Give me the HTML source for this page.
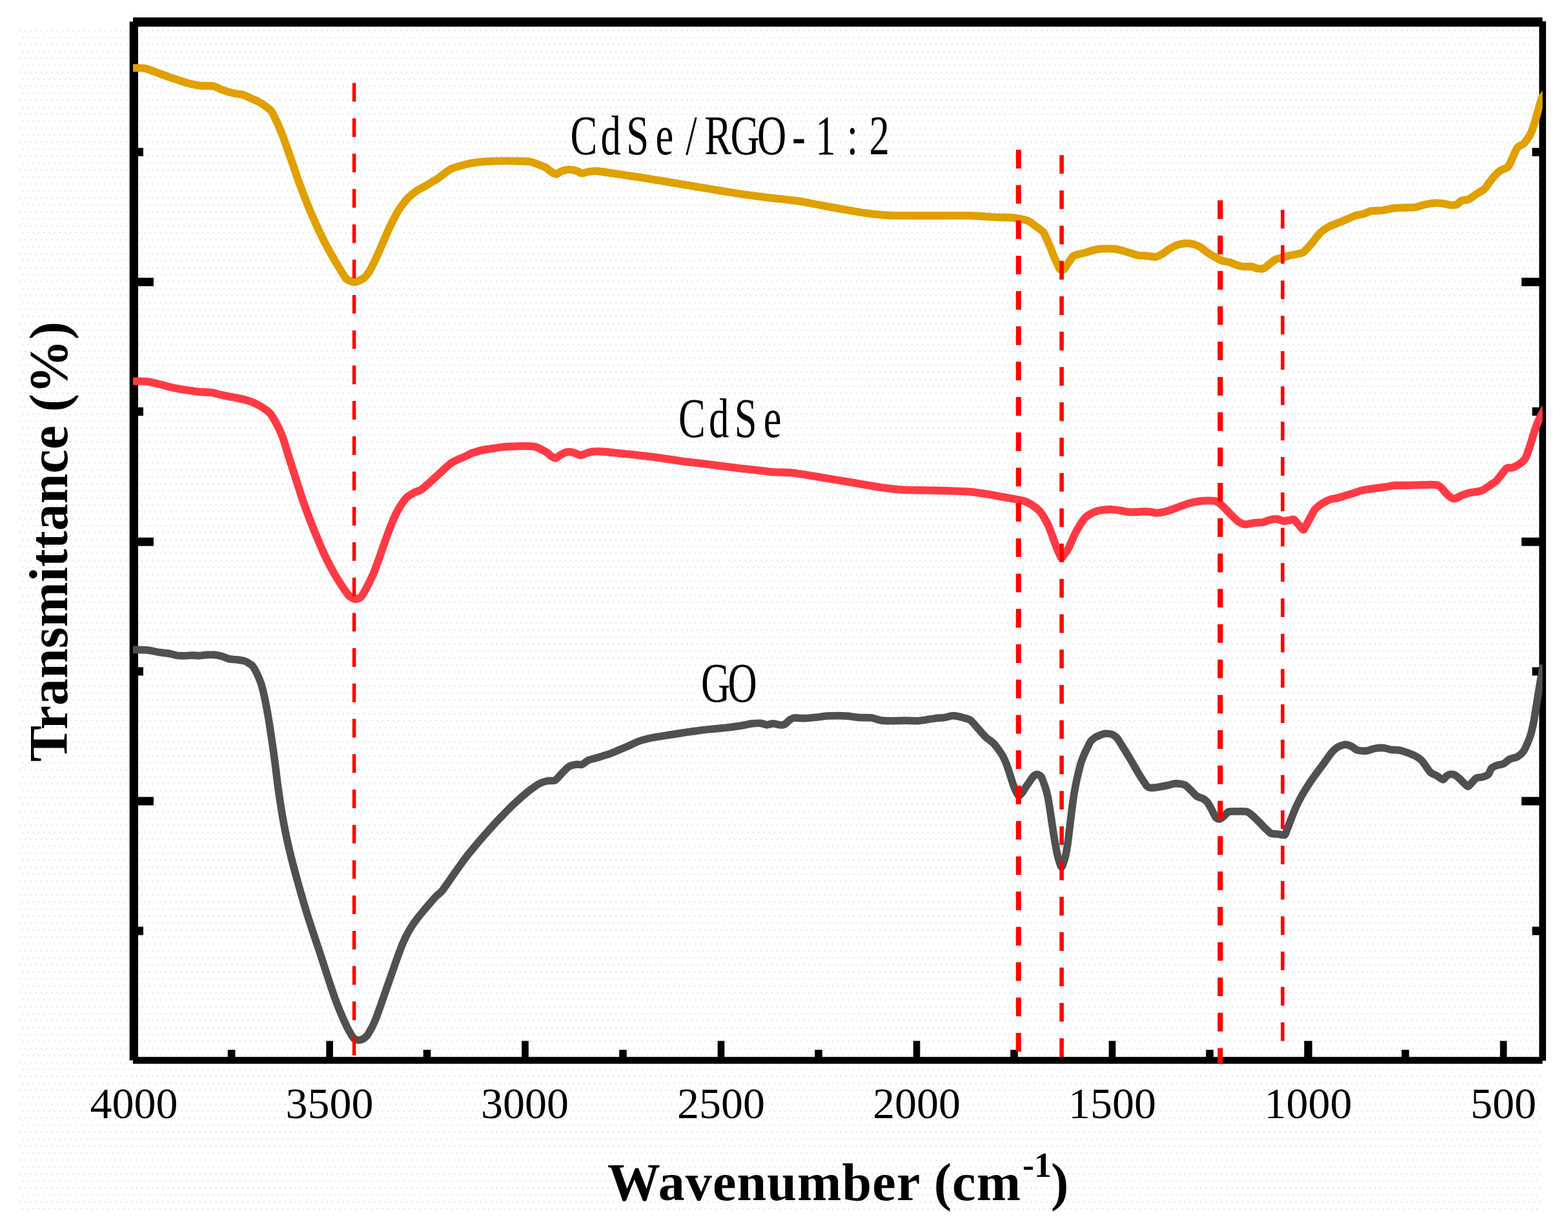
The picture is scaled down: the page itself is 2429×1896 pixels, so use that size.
<!DOCTYPE html>
<html lang="en"><head><meta charset="utf-8"><title>FTIR spectra</title>
<style>html,body{margin:0;padding:0;background:#fff}body{width:2429px;height:1896px;overflow:hidden}svg{display:block}text{font-family:"Liberation Serif",serif;fill:#000}</style>
</head><body>
<svg xmlns="http://www.w3.org/2000/svg" width="2429" height="1896" viewBox="0 0 2429 1896">
<defs><pattern id="dots" x="30" y="46" width="8.2" height="21.6" patternUnits="userSpaceOnUse"><rect x="0" y="0" width="2.7" height="2.7" fill="#ebebeb"/><rect x="4.1" y="10.8" width="2.7" height="2.7" fill="#ebebeb"/></pattern><clipPath id="plot"><rect x="206" y="30" width="2183.6" height="1615"/></clipPath></defs>
<rect width="2429" height="1896" fill="#fff"/>
<rect x="30" y="46" width="2356" height="1836" fill="url(#dots)"/>
<g fill="#000">
<rect x="206" y="27" width="2183.5" height="14.3"/>
<rect x="200.7" y="33.5" width="13.3" height="1609"/>
<rect x="2384.3" y="33" width="10.6" height="1610"/>
<rect x="206" y="1637.2" width="2183.5" height="10.6"/>
<rect x="213" y="229.0" width="9" height="13"/>
<rect x="2373.5" y="229.0" width="11.5" height="13"/>
<rect x="213" y="430.3" width="25" height="13"/>
<rect x="2357" y="430.3" width="28" height="13"/>
<rect x="213" y="631.0" width="9" height="13"/>
<rect x="2373.5" y="631.0" width="11.5" height="13"/>
<rect x="213" y="832.7" width="25" height="13"/>
<rect x="2357" y="832.7" width="28" height="13"/>
<rect x="213" y="1033.5" width="9" height="13"/>
<rect x="2373.5" y="1033.5" width="11.5" height="13"/>
<rect x="213" y="1234.5" width="25" height="13"/>
<rect x="2357" y="1234.5" width="28" height="13"/>
<rect x="213" y="1435.5" width="9" height="13"/>
<rect x="2373.5" y="1435.5" width="11.5" height="13"/>
<rect x="352.8" y="1626.2" width="11.6" height="13.799999999999955"/>
<rect x="505.3" y="1612.4" width="10.6" height="27.59999999999991"/>
<rect x="655.7" y="1626.2" width="11.6" height="13.799999999999955"/>
<rect x="808.2" y="1612.4" width="10.6" height="27.59999999999991"/>
<rect x="959.2" y="1626.2" width="11.6" height="13.799999999999955"/>
<rect x="1111.7" y="1612.4" width="10.6" height="27.59999999999991"/>
<rect x="1262.2" y="1626.2" width="11.6" height="13.799999999999955"/>
<rect x="1414.7" y="1612.4" width="10.6" height="27.59999999999991"/>
<rect x="1565.2" y="1626.2" width="11.6" height="13.799999999999955"/>
<rect x="1717.7" y="1612.4" width="10.6" height="27.59999999999991"/>
<rect x="1868.2" y="1626.2" width="11.6" height="13.799999999999955"/>
<rect x="2020.3" y="1612.4" width="12.4" height="27.59999999999991"/>
<rect x="2171.2" y="1626.2" width="11.6" height="13.799999999999955"/>
<rect x="2323.7" y="1612.4" width="10.6" height="27.59999999999991"/>
</g>
<g fill="none" clip-path="url(#plot)" stroke-linejoin="round" stroke-linecap="butt" stroke-width="12.1">
<path stroke="#505050" stroke-width="11.7" d="M205.0,1006.2 C205.2,1006.2 204.2,1006.2 207.0,1006.3 C209.8,1006.4 223.4,1006.5 228.2,1007.0 C233.0,1007.5 242.9,1009.9 246.9,1010.5 C250.9,1011.1 258.5,1011.7 261.7,1012.3 C264.9,1012.9 270.7,1014.8 273.5,1015.2 C276.3,1015.6 282.4,1015.8 285.2,1015.8 C288.0,1015.8 294.1,1015.2 296.9,1015.2 C299.7,1015.2 305.9,1015.7 308.7,1015.6 C311.5,1015.5 317.6,1014.5 320.4,1014.4 C323.2,1014.3 329.3,1014.1 332.1,1014.4 C334.9,1014.7 341.1,1015.9 343.9,1016.7 C346.7,1017.5 352.8,1020.1 355.6,1020.7 C358.4,1021.3 364.5,1021.5 367.3,1021.9 C370.1,1022.3 376.9,1023.4 379.0,1024.0 C381.1,1024.6 383.5,1026.1 384.9,1027.0 C386.3,1027.9 389.6,1029.9 390.8,1031.1 C392.0,1032.3 393.4,1034.8 394.6,1036.9 C395.8,1039.0 399.3,1045.9 400.5,1048.7 C401.7,1051.5 404.0,1057.6 404.9,1060.4 C405.8,1063.2 407.3,1069.3 408.0,1072.1 C408.7,1074.9 410.0,1081.1 410.6,1083.9 C411.2,1086.7 412.4,1092.8 412.9,1095.6 C413.4,1098.4 414.5,1104.5 415.0,1107.3 C415.5,1110.1 416.5,1116.2 416.9,1119.0 C417.3,1121.8 418.3,1128.0 418.7,1130.8 C419.1,1133.6 420.1,1139.7 420.5,1142.5 C420.9,1145.3 421.8,1151.4 422.2,1154.2 C422.6,1157.0 423.5,1163.2 423.9,1166.0 C424.3,1168.8 425.1,1174.9 425.5,1177.7 C425.9,1180.5 426.4,1184.3 427.0,1189.4 C427.6,1194.5 429.6,1211.6 430.8,1220.0 C432.0,1228.4 435.2,1250.2 436.8,1259.8 C438.4,1269.4 442.7,1291.6 444.5,1300.0 C446.3,1308.4 450.0,1323.6 451.6,1330.0 C453.2,1336.4 456.3,1347.9 457.8,1353.5 C459.3,1359.1 462.7,1371.3 464.3,1376.9 C465.9,1382.5 469.4,1394.8 471.1,1400.4 C472.8,1406.0 476.5,1418.3 478.3,1423.9 C480.1,1429.5 484.1,1441.7 486.0,1447.3 C487.9,1452.9 492.0,1465.2 493.9,1470.8 C495.8,1476.4 499.7,1488.6 501.5,1494.2 C503.3,1499.8 507.1,1511.7 509.1,1517.7 C511.1,1523.7 515.9,1537.9 518.0,1543.9 C520.1,1549.9 524.7,1561.7 527.0,1567.3 C529.3,1572.9 535.5,1586.6 537.5,1590.8 C539.5,1595.0 542.7,1600.4 544.0,1602.5 C545.3,1604.6 547.0,1607.4 548.0,1608.4 C549.0,1609.4 551.6,1610.4 552.7,1610.7 C553.8,1611.0 556.3,1611.1 557.4,1611.0 C558.5,1610.9 560.8,1610.2 562.1,1609.5 C563.4,1608.8 567.0,1605.9 568.0,1604.9 C569.0,1603.9 569.6,1603.0 570.6,1601.3 C571.6,1599.6 575.2,1593.5 576.5,1590.8 C577.8,1588.1 580.6,1581.8 581.8,1579.0 C583.0,1576.2 585.2,1570.1 586.2,1567.3 C587.2,1564.5 589.3,1558.4 590.3,1555.6 C591.3,1552.8 593.4,1546.7 594.4,1543.9 C595.4,1541.1 597.5,1534.9 598.5,1532.1 C599.5,1529.3 601.6,1523.2 602.6,1520.4 C603.6,1517.6 605.7,1511.5 606.7,1508.7 C607.7,1505.9 609.8,1499.7 610.8,1496.9 C611.8,1494.1 613.9,1488.0 614.9,1485.2 C615.9,1482.4 618.1,1476.3 619.2,1473.5 C620.3,1470.7 622.5,1464.6 623.8,1461.7 C625.1,1458.8 628.1,1452.1 629.7,1449.0 C631.3,1445.9 635.4,1438.6 637.3,1435.6 C639.2,1432.6 643.4,1426.7 645.5,1423.9 C647.6,1421.1 652.7,1414.9 655.0,1412.1 C657.3,1409.3 662.6,1403.2 665.0,1400.4 C667.4,1397.6 672.8,1391.2 675.2,1388.7 C677.6,1386.2 681.8,1383.6 685.0,1379.7 C688.2,1375.8 697.4,1362.1 701.6,1356.2 C705.8,1350.3 717.3,1334.1 720.0,1330.4 C722.7,1326.7 722.0,1327.6 724.1,1325.0 C726.2,1322.4 734.4,1312.5 737.7,1308.6 C741.0,1304.7 748.3,1296.1 751.8,1292.2 C755.3,1288.3 763.1,1279.4 766.5,1275.7 C769.9,1272.0 776.6,1265.1 779.9,1261.7 C783.2,1258.3 790.5,1250.8 793.9,1247.6 C797.3,1244.4 804.5,1237.7 807.9,1234.7 C811.3,1231.7 818.6,1225.5 822.0,1223.0 C825.4,1220.5 833.0,1215.2 836.1,1213.6 C839.2,1212.0 845.0,1210.2 847.8,1209.6 C850.6,1209.0 857.0,1210.1 859.5,1208.9 C862.0,1207.7 866.4,1202.0 868.9,1199.5 C871.4,1197.0 877.9,1189.6 880.7,1187.8 C883.5,1186.0 889.9,1184.6 892.4,1184.2 C894.9,1183.8 899.5,1185.0 901.8,1184.2 C904.1,1183.4 908.4,1179.0 911.2,1177.7 C914.0,1176.4 921.3,1174.9 925.2,1173.7 C929.1,1172.5 940.1,1169.2 944.0,1167.8 C947.9,1166.4 954.7,1163.4 958.1,1162.0 C961.5,1160.6 968.5,1157.7 972.2,1156.1 C975.9,1154.5 984.7,1150.1 988.6,1148.6 C992.5,1147.1 1000.2,1145.0 1005.0,1143.9 C1009.8,1142.8 1022.9,1140.6 1028.5,1139.7 C1034.1,1138.8 1046.3,1137.0 1051.9,1136.1 C1057.5,1135.2 1069.8,1133.4 1075.4,1132.6 C1081.0,1131.8 1093.3,1130.4 1098.9,1129.8 C1104.5,1129.2 1116.7,1128.1 1122.3,1127.5 C1127.9,1126.9 1140.7,1125.2 1145.8,1124.4 C1150.9,1123.6 1160.7,1121.4 1164.6,1120.9 C1168.5,1120.4 1175.8,1120.2 1178.6,1120.4 C1181.4,1120.6 1185.7,1122.7 1188.0,1122.8 C1190.3,1122.9 1194.8,1120.9 1197.4,1120.9 C1200.0,1120.9 1207.1,1123.1 1209.4,1123.2 C1211.7,1123.3 1214.7,1122.4 1216.4,1121.4 C1218.1,1120.4 1221.8,1116.1 1223.5,1115.0 C1225.2,1113.9 1227.7,1112.3 1230.5,1112.0 C1233.3,1111.7 1242.7,1112.8 1246.9,1112.7 C1251.1,1112.6 1261.8,1111.4 1265.7,1111.0 C1269.6,1110.6 1275.9,1109.5 1279.8,1109.2 C1283.7,1108.9 1294.6,1108.7 1298.5,1108.7 C1302.4,1108.7 1308.7,1108.9 1312.6,1109.2 C1316.5,1109.5 1326.9,1111.2 1331.4,1111.5 C1335.9,1111.8 1346.3,1111.5 1350.2,1112.0 C1354.1,1112.5 1360.8,1115.1 1364.2,1115.7 C1367.6,1116.3 1373.8,1116.6 1378.3,1116.7 C1382.8,1116.8 1396.7,1116.2 1401.8,1116.2 C1406.9,1116.2 1416.7,1116.8 1420.6,1116.7 C1424.5,1116.6 1431.2,1115.5 1434.6,1115.0 C1438.0,1114.5 1445.3,1113.1 1448.7,1112.7 C1452.1,1112.3 1459.4,1112.0 1462.8,1111.5 C1466.2,1111.0 1473.4,1108.7 1476.9,1108.7 C1480.4,1108.7 1488.5,1110.8 1491.7,1111.7 C1494.9,1112.6 1500.7,1113.8 1503.5,1115.8 C1506.3,1117.8 1512.4,1125.6 1515.2,1128.7 C1518.0,1131.8 1524.1,1138.9 1526.9,1141.6 C1529.7,1144.3 1536.4,1148.7 1538.7,1151.0 C1541.0,1153.3 1544.5,1157.9 1546.3,1160.4 C1548.1,1162.9 1552.4,1169.3 1553.9,1172.1 C1555.4,1174.9 1558.1,1181.1 1559.2,1183.9 C1560.3,1186.7 1562.3,1192.8 1563.2,1195.6 C1564.1,1198.4 1566.0,1204.5 1566.9,1207.3 C1567.8,1210.1 1569.9,1216.5 1570.9,1219.0 C1571.9,1221.5 1574.3,1226.8 1575.2,1228.4 C1576.1,1230.0 1577.0,1232.5 1578.0,1232.5 C1579.0,1232.5 1581.9,1230.0 1583.2,1228.4 C1584.5,1226.8 1587.7,1221.2 1589.2,1219.0 C1590.7,1216.8 1594.2,1211.7 1595.6,1209.7 C1597.0,1207.7 1599.5,1203.8 1600.8,1202.6 C1602.1,1201.4 1605.3,1199.7 1606.7,1199.7 C1608.1,1199.7 1611.4,1201.1 1612.6,1202.6 C1613.8,1204.1 1615.7,1209.6 1616.6,1212.0 C1617.5,1214.4 1619.4,1219.9 1620.2,1222.6 C1621.0,1225.3 1622.4,1231.0 1623.1,1234.3 C1623.8,1237.6 1625.0,1244.6 1625.9,1250.0 C1626.8,1255.4 1629.2,1272.7 1630.2,1279.0 C1631.2,1285.3 1632.9,1296.9 1633.9,1302.5 C1634.9,1308.1 1637.5,1321.8 1638.5,1326.0 C1639.5,1330.2 1641.3,1335.7 1642.0,1337.7 C1642.7,1339.7 1643.9,1343.0 1644.5,1343.0 C1645.1,1343.0 1646.3,1339.7 1647.0,1337.7 C1647.7,1335.7 1649.7,1330.2 1650.6,1326.0 C1651.5,1321.8 1653.8,1308.1 1654.6,1302.5 C1655.4,1296.9 1656.7,1284.6 1657.4,1279.0 C1658.1,1273.4 1659.5,1261.2 1660.2,1255.6 C1660.9,1250.0 1662.6,1237.7 1663.5,1232.1 C1664.4,1226.5 1666.6,1214.3 1667.8,1208.7 C1669.0,1203.1 1672.3,1189.6 1673.5,1185.2 C1674.7,1180.8 1676.9,1175.1 1678.1,1172.1 C1679.3,1169.1 1682.0,1163.2 1683.4,1160.4 C1684.8,1157.6 1687.9,1150.8 1689.4,1148.7 C1690.9,1146.6 1694.3,1143.9 1695.9,1142.8 C1697.5,1141.7 1700.9,1140.1 1702.9,1139.3 C1704.9,1138.5 1709.8,1136.4 1712.3,1136.3 C1714.8,1136.2 1721.9,1137.3 1724.0,1138.1 C1726.1,1138.9 1728.7,1141.4 1730.0,1142.8 C1731.3,1144.2 1732.7,1146.3 1735.0,1150.0 C1737.3,1153.7 1746.1,1167.9 1749.5,1173.5 C1752.9,1179.1 1760.6,1192.7 1763.1,1196.9 C1765.6,1201.1 1768.8,1206.2 1770.5,1208.7 C1772.2,1211.2 1775.5,1216.6 1777.0,1218.0 C1778.5,1219.4 1780.8,1220.3 1782.9,1220.4 C1785.0,1220.5 1791.3,1219.7 1794.6,1219.2 C1797.9,1218.7 1806.8,1217.0 1810.0,1216.3 C1813.2,1215.6 1818.3,1213.6 1821.3,1213.6 C1824.3,1213.6 1832.6,1214.6 1835.4,1215.9 C1838.2,1217.2 1842.5,1222.0 1844.7,1224.1 C1846.9,1226.2 1851.8,1232.0 1854.1,1233.5 C1856.4,1235.0 1861.5,1235.9 1863.5,1237.0 C1865.5,1238.1 1869.0,1240.8 1870.6,1242.9 C1872.2,1245.0 1875.7,1251.8 1877.2,1254.6 C1878.7,1257.4 1882.0,1264.7 1883.5,1266.4 C1885.0,1268.1 1887.8,1269.0 1889.3,1268.7 C1890.8,1268.4 1894.7,1265.4 1896.4,1264.0 C1898.1,1262.6 1900.9,1258.2 1903.4,1257.4 C1905.9,1256.6 1914.1,1257.0 1917.5,1257.0 C1920.9,1257.0 1928.8,1256.6 1931.6,1257.4 C1934.4,1258.2 1938.4,1261.8 1940.9,1264.0 C1943.4,1266.2 1950.2,1273.2 1952.7,1275.7 C1955.2,1278.2 1960.1,1283.3 1962.1,1285.1 C1964.1,1286.9 1966.9,1290.1 1969.1,1291.0 C1971.3,1291.9 1978.3,1291.9 1980.8,1292.2 C1983.3,1292.5 1988.6,1294.2 1990.2,1293.3 C1991.8,1292.4 1992.6,1288.1 1993.8,1285.1 C1995.0,1282.1 1998.4,1272.9 2000.1,1268.7 C2001.8,1264.5 2005.7,1254.4 2007.8,1249.9 C2009.9,1245.4 2014.8,1235.7 2017.3,1231.2 C2019.8,1226.7 2026.4,1216.3 2029.0,1212.4 C2031.6,1208.5 2036.3,1202.0 2039.0,1198.3 C2041.7,1194.6 2048.2,1185.8 2051.1,1181.9 C2054.0,1178.0 2060.5,1168.5 2063.0,1165.5 C2065.5,1162.5 2069.8,1158.8 2072.3,1157.3 C2074.8,1155.8 2081.6,1153.4 2084.1,1153.3 C2086.6,1153.2 2091.3,1155.1 2093.5,1156.1 C2095.7,1157.1 2100.0,1161.2 2102.8,1162.0 C2105.6,1162.8 2113.8,1163.4 2116.9,1163.1 C2120.0,1162.8 2125.8,1160.2 2128.6,1159.6 C2131.4,1159.0 2138.0,1158.4 2140.4,1158.4 C2142.8,1158.4 2146.8,1159.2 2148.6,1159.6 C2150.4,1160.0 2153.4,1161.1 2155.7,1161.4 C2158.0,1161.7 2164.6,1161.4 2167.4,1161.9 C2170.2,1162.4 2176.0,1164.3 2179.1,1165.4 C2182.2,1166.5 2190.4,1169.8 2193.2,1171.3 C2196.0,1172.8 2200.5,1176.1 2202.6,1178.3 C2204.7,1180.5 2209.3,1187.7 2211.0,1190.0 C2212.7,1192.3 2214.9,1195.7 2216.7,1197.1 C2218.5,1198.5 2223.8,1200.5 2226.1,1201.8 C2228.4,1203.1 2233.7,1207.6 2235.5,1207.6 C2237.3,1207.6 2239.9,1202.8 2241.3,1201.8 C2242.7,1200.8 2245.7,1199.5 2247.2,1199.4 C2248.7,1199.3 2252.5,1199.7 2254.2,1200.6 C2255.9,1201.5 2259.6,1205.0 2261.3,1206.5 C2263.0,1208.0 2266.8,1212.1 2268.3,1213.5 C2269.8,1214.9 2272.7,1218.5 2274.2,1218.2 C2275.7,1217.9 2279.7,1212.6 2281.2,1211.1 C2282.7,1209.6 2285.3,1206.2 2287.1,1205.3 C2288.9,1204.4 2294.2,1204.3 2296.4,1203.6 C2298.6,1202.9 2304.1,1201.0 2305.8,1199.4 C2307.5,1197.8 2308.8,1191.7 2310.5,1190.0 C2312.2,1188.3 2317.6,1186.1 2319.9,1185.3 C2322.2,1184.5 2327.0,1184.1 2329.3,1183.0 C2331.6,1181.9 2336.2,1177.3 2338.7,1176.0 C2341.2,1174.7 2347.9,1173.8 2350.4,1172.4 C2352.9,1171.0 2358.0,1166.6 2359.8,1164.2 C2361.6,1161.8 2364.3,1155.6 2365.7,1152.5 C2367.1,1149.4 2370.0,1142.1 2371.1,1138.4 C2372.2,1134.7 2374.2,1126.5 2375.1,1122.0 C2376.0,1117.5 2377.9,1106.0 2378.7,1100.9 C2379.5,1095.8 2381.3,1084.9 2382.1,1079.8 C2382.9,1074.7 2384.9,1063.1 2385.6,1058.7 C2386.3,1054.3 2387.7,1046.8 2388.3,1043.4 C2388.9,1040.0 2390.7,1031.6 2391.0,1030.0"/>
<path stroke="#ff3a44" d="M205.0,590.5 C205.2,590.5 204.2,590.4 207.0,590.5 C209.8,590.6 223.4,590.4 228.2,591.0 C233.0,591.6 241.8,594.0 246.9,595.2 C252.0,596.4 264.8,599.9 270.4,601.1 C276.0,602.3 289.4,604.3 293.9,605.0 C298.4,605.7 304.0,606.5 307.9,606.9 C311.8,607.3 322.6,607.6 326.7,608.1 C330.8,608.6 338.5,610.7 341.7,611.4 C344.9,612.1 350.7,613.4 353.5,614.0 C356.3,614.6 362.4,615.5 365.2,616.1 C368.0,616.7 374.1,618.0 376.9,618.7 C379.7,619.4 385.9,621.1 388.7,622.2 C391.5,623.3 397.6,626.0 400.4,627.5 C403.2,629.0 409.8,633.3 412.1,635.1 C414.4,636.9 417.9,639.8 419.7,642.1 C421.5,644.4 425.4,651.1 427.0,653.9 C428.6,656.7 431.7,662.8 433.0,665.6 C434.3,668.4 436.8,674.5 437.8,677.3 C438.8,680.1 440.8,686.2 441.7,689.0 C442.6,691.8 444.4,698.0 445.3,700.8 C446.2,703.6 448.0,709.7 448.9,712.5 C449.8,715.3 451.8,721.4 452.7,724.2 C453.6,727.0 455.6,733.2 456.5,736.0 C457.4,738.8 458.7,743.2 460.2,747.7 C461.7,752.2 466.6,767.6 468.6,773.5 C470.6,779.4 474.9,791.3 477.0,796.9 C479.1,802.5 483.8,814.8 486.1,820.4 C488.4,826.0 493.5,838.3 495.9,843.9 C498.3,849.5 503.7,861.7 506.5,867.3 C509.3,872.9 515.8,885.2 519.1,890.8 C522.4,896.4 531.5,910.3 534.2,914.2 C536.9,918.1 539.6,921.9 541.5,923.6 C543.4,925.3 548.1,928.2 550.2,928.3 C552.3,928.4 557.1,926.5 559.0,924.8 C560.9,923.1 563.7,918.3 565.9,914.2 C568.1,910.1 575.0,896.4 577.5,890.8 C580.0,885.2 584.4,872.9 586.5,867.3 C588.6,861.7 592.6,849.5 594.6,843.9 C596.6,838.3 600.9,826.0 603.1,820.4 C605.3,814.8 610.9,801.2 612.9,796.9 C614.9,792.6 618.0,787.3 620.0,784.2 C622.0,781.1 626.8,773.8 629.3,771.3 C631.8,768.8 638.3,764.8 641.1,763.3 C643.9,761.8 650.0,760.2 652.8,758.4 C655.6,756.6 661.7,750.9 664.5,748.4 C667.3,745.9 673.4,740.4 676.2,737.8 C679.0,735.2 685.2,729.2 688.0,726.7 C690.8,724.2 696.9,718.6 699.7,716.7 C702.5,714.8 708.6,712.2 711.4,710.9 C714.2,709.6 721.1,706.9 723.2,705.9 C725.3,704.9 726.9,703.4 729.0,702.6 C731.1,701.8 738.0,699.7 740.8,698.9 C743.6,698.1 749.7,696.8 752.5,696.3 C755.3,695.8 761.4,695.0 764.2,694.6 C767.0,694.2 773.2,693.1 776.0,692.8 C778.8,692.5 783.5,692.0 787.7,691.8 C791.9,691.6 806.3,691.0 811.2,691.0 C816.1,691.0 825.3,691.3 828.8,692.0 C832.3,692.7 838.0,695.9 840.5,697.2 C843.0,698.5 848.6,701.8 850.0,702.8 C851.4,703.8 851.2,705.1 852.5,705.9 C853.8,706.7 858.7,709.9 860.7,709.7 C862.7,709.5 866.8,705.4 868.9,704.3 C871.0,703.2 876.0,700.7 878.3,700.3 C880.6,699.9 885.2,700.2 887.7,700.8 C890.2,701.4 896.9,704.9 899.4,705.0 C901.9,705.1 906.5,702.6 908.8,702.0 C911.1,701.4 915.1,699.9 918.2,699.6 C921.3,699.3 929.8,699.3 934.6,699.6 C939.4,699.9 952.5,701.4 958.1,702.0 C963.7,702.6 976.0,703.7 981.6,704.3 C987.2,704.9 999.4,706.4 1005.0,707.1 C1010.6,707.8 1022.9,709.4 1028.5,710.2 C1034.1,711.0 1046.3,712.9 1051.9,713.7 C1057.5,714.5 1069.8,716.0 1075.4,716.7 C1081.0,717.4 1093.3,718.8 1098.9,719.5 C1104.5,720.2 1116.7,721.9 1122.3,722.6 C1127.9,723.3 1140.2,724.8 1145.8,725.4 C1151.4,726.0 1163.1,727.3 1169.3,728.0 C1175.5,728.7 1190.9,730.8 1197.4,731.3 C1203.9,731.8 1216.1,731.4 1223.5,732.1 C1230.9,732.8 1250.3,736.0 1258.7,737.3 C1267.1,738.6 1285.5,741.7 1293.9,743.1 C1302.3,744.5 1320.6,747.6 1329.0,749.0 C1337.4,750.4 1355.8,753.7 1364.2,754.9 C1372.6,756.1 1391.0,758.2 1399.4,758.8 C1407.8,759.4 1426.2,759.3 1434.6,759.5 C1443.0,759.7 1461.4,760.0 1469.8,760.3 C1478.2,760.6 1496.6,761.1 1505.0,761.9 C1513.4,762.7 1534.4,766.3 1540.0,767.2 C1545.6,768.1 1548.9,769.0 1551.7,769.5 C1554.5,770.0 1560.7,771.1 1563.5,771.6 C1566.3,772.1 1572.4,773.1 1575.2,773.7 C1578.0,774.3 1584.1,775.3 1586.9,776.3 C1589.7,777.3 1595.9,780.4 1598.7,782.2 C1601.5,784.0 1608.1,789.2 1610.4,791.6 C1612.7,794.0 1616.1,799.4 1617.7,802.1 C1619.3,804.8 1622.6,811.1 1623.9,813.9 C1625.2,816.7 1627.4,822.8 1628.5,825.6 C1629.6,828.4 1631.7,834.5 1632.7,837.3 C1633.7,840.1 1636.0,846.3 1637.1,849.0 C1638.2,851.7 1640.9,857.8 1641.8,859.6 C1642.7,861.4 1643.7,864.2 1644.4,864.3 C1645.1,864.4 1646.9,861.3 1647.8,860.2 C1648.7,859.1 1650.9,856.2 1651.8,854.9 C1652.7,853.6 1654.2,851.1 1655.3,849.0 C1656.4,846.9 1659.3,840.1 1660.6,837.3 C1661.9,834.5 1664.5,828.4 1665.9,825.6 C1667.3,822.8 1670.8,816.7 1672.6,813.9 C1674.4,811.1 1678.8,804.2 1680.8,802.1 C1682.8,800.0 1686.9,797.5 1689.0,796.3 C1691.1,795.1 1695.9,792.9 1698.4,792.1 C1700.9,791.3 1707.3,790.1 1710.1,789.8 C1712.9,789.5 1719.0,789.1 1721.8,789.2 C1724.6,789.3 1730.8,790.0 1733.6,790.4 C1736.4,790.8 1742.5,792.4 1745.3,792.7 C1748.1,793.0 1754.2,793.3 1757.0,793.3 C1759.8,793.3 1766.0,792.6 1768.8,792.5 C1771.6,792.4 1778.0,792.5 1780.5,792.7 C1783.0,792.9 1788.2,794.3 1790.0,794.5 C1791.8,794.7 1793.2,794.7 1795.5,794.3 C1797.8,793.9 1805.8,792.3 1809.5,791.2 C1813.2,790.1 1822.1,786.8 1826.0,785.4 C1829.9,784.0 1838.7,780.6 1842.4,779.5 C1846.1,778.4 1853.1,776.9 1856.5,776.4 C1859.9,775.9 1867.5,775.5 1870.6,775.5 C1873.7,775.5 1879.8,775.2 1882.3,776.0 C1884.8,776.8 1889.4,780.0 1891.7,781.8 C1894.0,783.6 1898.9,788.9 1901.1,791.2 C1903.3,793.5 1908.2,798.5 1910.4,800.6 C1912.6,802.7 1917.5,807.4 1919.8,808.8 C1922.1,810.2 1926.4,812.2 1929.2,812.3 C1932.0,812.4 1939.9,810.4 1943.3,810.0 C1946.7,809.6 1954.6,809.4 1957.4,808.8 C1960.2,808.2 1964.3,805.9 1966.8,805.3 C1969.3,804.7 1976.0,803.9 1978.5,804.1 C1981.0,804.3 1985.6,806.7 1987.9,806.9 C1990.2,807.1 1995.3,806.3 1997.3,806.0 C1999.3,805.7 2002.6,803.8 2004.3,804.6 C2006.0,805.4 2009.6,810.4 2011.4,812.3 C2013.2,814.2 2017.6,820.6 2019.1,820.6 C2020.6,820.6 2022.5,814.8 2024.0,812.3 C2025.5,809.8 2029.6,802.2 2031.2,799.4 C2032.8,796.6 2035.0,791.3 2037.1,788.9 C2039.2,786.5 2046.1,781.3 2048.9,779.5 C2051.7,777.7 2057.8,774.6 2060.6,773.6 C2063.4,772.6 2069.5,772.0 2072.3,771.3 C2075.1,770.6 2081.3,768.7 2084.1,767.8 C2086.9,766.9 2093.0,765.1 2095.8,764.2 C2098.6,763.3 2104.7,761.1 2107.5,760.3 C2110.3,759.5 2116.2,758.4 2119.3,757.9 C2122.4,757.4 2129.8,756.5 2133.3,756.0 C2136.8,755.5 2145.3,754.4 2148.6,753.9 C2151.9,753.4 2156.7,752.1 2160.4,751.9 C2164.1,751.7 2174.6,752.0 2179.1,751.9 C2183.6,751.8 2193.4,751.3 2197.9,751.2 C2202.4,751.1 2213.3,750.7 2216.7,750.7 C2220.1,750.7 2224.1,750.6 2226.1,751.2 C2228.1,751.8 2231.4,754.4 2233.1,755.9 C2234.8,757.4 2238.3,762.3 2240.1,764.1 C2241.9,765.9 2246.7,770.1 2248.4,771.1 C2250.1,772.1 2252.4,772.7 2254.2,772.3 C2256.0,771.9 2261.1,768.6 2263.6,767.6 C2266.1,766.6 2272.5,764.3 2275.3,763.6 C2278.1,762.9 2284.6,762.3 2287.1,761.8 C2289.6,761.3 2294.2,760.4 2296.4,759.4 C2298.6,758.4 2303.3,755.2 2305.8,753.5 C2308.3,751.8 2315.0,747.7 2317.6,745.3 C2320.2,742.9 2325.2,736.0 2327.2,733.6 C2329.2,731.2 2332.1,726.5 2334.0,725.4 C2335.9,724.3 2341.1,724.9 2343.4,724.2 C2345.7,723.5 2350.6,721.0 2352.8,719.5 C2355.0,718.0 2360.4,713.5 2362.1,711.3 C2363.8,709.1 2365.5,703.8 2366.6,700.8 C2367.7,697.8 2370.3,690.1 2371.4,686.7 C2372.5,683.3 2374.5,676.0 2375.6,672.6 C2376.7,669.2 2379.4,661.3 2380.5,658.5 C2381.6,655.7 2383.4,651.3 2384.5,649.1 C2385.6,646.9 2388.3,641.9 2389.4,639.8 C2390.5,637.7 2393.4,632.9 2394.0,632.0"/>
<path stroke="#e0a000" d="M205.0,105.2 C205.2,105.2 204.8,105.2 207.0,105.3 C209.2,105.4 219.6,105.1 223.5,105.8 C227.4,106.5 235.7,109.6 239.9,111.1 C244.1,112.6 254.2,116.6 258.7,118.2 C263.2,119.8 273.2,123.1 277.4,124.5 C281.6,125.9 290.0,128.7 293.9,129.7 C297.8,130.7 306.0,132.3 310.3,132.7 C314.6,133.1 326.2,132.6 330.0,133.2 C333.8,133.8 338.9,137.0 341.7,138.1 C344.5,139.2 350.7,141.4 353.5,142.2 C356.3,143.0 362.4,144.5 365.2,145.1 C368.0,145.7 374.1,146.0 376.9,146.9 C379.7,147.8 385.9,150.9 388.7,152.2 C391.5,153.5 397.6,156.0 400.4,157.5 C403.2,159.0 409.7,163.3 412.1,165.1 C414.5,166.9 418.6,169.8 420.3,172.1 C422.0,174.4 425.1,181.1 426.5,183.9 C427.9,186.7 430.7,192.8 431.9,195.6 C433.1,198.4 435.6,204.5 436.7,207.3 C437.8,210.1 440.1,216.2 441.1,219.0 C442.1,221.8 444.2,228.0 445.2,230.8 C446.2,233.6 448.4,239.7 449.4,242.5 C450.4,245.3 452.5,251.4 453.5,254.2 C454.5,257.0 456.3,262.5 457.5,266.0 C458.7,269.5 461.8,278.6 463.6,283.5 C465.4,288.4 470.3,301.3 472.5,306.9 C474.7,312.5 479.7,324.8 482.1,330.4 C484.5,336.0 489.9,348.3 492.5,353.9 C495.1,359.5 501.0,371.7 504.0,377.3 C507.0,382.9 513.4,394.4 517.1,400.8 C520.8,407.2 532.3,426.4 535.2,430.4 C538.1,434.4 539.4,433.7 541.0,434.5 C542.6,435.3 546.9,436.9 548.7,436.9 C550.5,436.9 554.1,435.6 556.0,434.8 C557.9,434.0 562.6,431.6 564.2,430.4 C565.8,429.2 568.1,425.9 569.2,424.5 C570.3,423.1 571.5,421.5 573.1,418.7 C574.7,415.9 579.9,405.8 582.2,400.8 C584.5,395.8 590.1,382.9 592.6,377.3 C595.1,371.7 600.2,359.5 602.8,353.9 C605.4,348.3 612.3,334.6 614.6,330.4 C616.9,326.2 620.2,321.5 622.3,318.7 C624.4,315.9 629.0,309.7 631.8,306.9 C634.6,304.1 642.7,297.4 645.9,295.2 C649.1,293.0 655.8,289.9 658.8,288.2 C661.8,286.5 668.0,282.6 670.5,281.1 C673.0,279.6 676.8,277.6 680.0,275.3 C683.2,273.0 693.3,264.5 697.4,262.3 C701.5,260.1 710.1,257.9 714.1,256.7 C718.1,255.5 726.0,253.5 730.5,252.7 C735.0,251.9 745.4,250.7 751.6,250.3 C757.8,249.9 776.2,249.3 782.1,249.2 C788.0,249.1 796.4,249.5 800.9,249.6 C805.4,249.7 816.0,249.8 819.7,250.3 C823.4,250.8 828.3,252.8 831.4,253.9 C834.5,255.0 842.7,258.2 845.5,259.7 C848.3,261.2 852.9,265.6 854.9,266.8 C856.9,268.0 860.2,269.9 861.9,269.8 C863.6,269.7 866.6,266.4 868.9,265.6 C871.2,264.8 877.9,262.9 880.7,262.8 C883.5,262.7 889.9,263.7 892.4,264.4 C894.9,265.1 899.5,268.2 901.8,268.4 C904.1,268.6 908.4,266.5 911.2,266.1 C914.0,265.7 919.6,264.7 925.2,265.1 C930.8,265.5 949.9,268.6 958.1,269.8 C966.3,271.0 984.9,273.7 993.3,275.0 C1001.7,276.3 1020.1,279.4 1028.5,280.8 C1036.9,282.2 1055.3,285.3 1063.7,286.7 C1072.1,288.1 1090.5,291.2 1098.9,292.6 C1107.3,294.0 1125.7,297.1 1134.1,298.4 C1142.5,299.7 1161.7,302.6 1169.3,303.6 C1176.9,304.6 1189.5,306.0 1197.4,306.9 C1205.3,307.8 1226.4,310.0 1235.2,311.3 C1244.0,312.6 1262.0,316.2 1270.4,317.7 C1278.8,319.2 1297.2,322.7 1305.6,324.2 C1314.0,325.7 1332.4,329.0 1340.8,330.1 C1349.2,331.2 1367.6,333.1 1376.0,333.6 C1384.4,334.1 1401.3,334.0 1411.2,334.1 C1421.1,334.2 1446.8,334.1 1458.1,334.1 C1469.4,334.1 1495.2,333.8 1505.0,334.1 C1514.8,334.4 1533.0,336.0 1540.0,336.3 C1547.0,336.6 1558.6,336.6 1563.5,336.9 C1568.4,337.2 1577.6,338.6 1581.1,339.2 C1584.6,339.8 1590.0,340.9 1592.8,342.2 C1595.6,343.5 1601.7,348.3 1604.5,350.4 C1607.3,352.5 1614.1,357.0 1616.3,359.8 C1618.5,362.6 1621.7,370.8 1623.1,373.9 C1624.5,377.0 1627.0,382.8 1628.1,385.6 C1629.2,388.4 1631.4,394.5 1632.6,397.3 C1633.8,400.1 1636.8,406.6 1637.9,409.0 C1639.0,411.4 1640.9,416.2 1642.1,417.3 C1643.3,418.4 1646.8,418.4 1647.9,417.8 C1649.0,417.2 1650.2,414.2 1651.3,412.6 C1652.4,411.0 1655.6,406.2 1656.9,404.4 C1658.2,402.6 1660.5,398.5 1662.0,397.3 C1663.5,396.1 1666.7,395.1 1669.0,394.4 C1671.3,393.7 1678.0,392.3 1680.8,391.5 C1683.6,390.7 1689.7,388.6 1692.5,387.9 C1695.3,387.2 1701.4,385.9 1704.2,385.6 C1707.0,385.3 1713.2,385.3 1716.0,385.3 C1718.8,385.3 1724.9,385.2 1727.7,385.6 C1730.5,386.0 1736.6,387.7 1739.4,388.5 C1742.2,389.3 1748.4,391.1 1751.2,392.0 C1754.0,392.9 1760.1,395.1 1762.9,395.6 C1765.7,396.1 1771.3,395.8 1774.6,396.1 C1777.9,396.4 1786.9,398.2 1790.0,397.9 C1793.1,397.6 1797.6,395.1 1800.2,393.6 C1802.8,392.1 1809.1,387.1 1811.9,385.4 C1814.7,383.7 1820.8,380.5 1823.6,379.5 C1826.4,378.5 1832.6,377.3 1835.4,377.1 C1838.2,376.9 1844.3,377.3 1847.1,377.9 C1849.9,378.5 1856.0,380.9 1858.8,382.5 C1861.6,384.1 1867.8,389.3 1870.6,391.2 C1873.4,393.1 1879.5,396.8 1882.3,398.3 C1885.1,399.8 1891.2,403.1 1894.0,404.1 C1896.8,405.1 1902.9,405.6 1905.7,406.5 C1908.5,407.4 1915.0,410.4 1917.5,411.2 C1920.0,412.0 1924.4,412.8 1926.9,413.0 C1929.4,413.2 1936.1,412.7 1938.6,413.0 C1941.1,413.3 1945.7,415.6 1948.0,415.9 C1950.3,416.2 1955.1,416.8 1957.4,415.9 C1959.7,415.0 1964.6,410.5 1966.8,408.8 C1969.0,407.1 1973.9,402.9 1976.1,401.8 C1978.3,400.7 1983.0,400.1 1985.5,399.4 C1988.0,398.7 1994.5,396.6 1997.3,395.9 C2000.1,395.2 2006.5,394.2 2009.0,393.6 C2011.5,393.0 2016.1,392.6 2018.4,391.2 C2020.7,389.8 2025.4,384.5 2027.8,381.8 C2030.2,379.1 2036.1,371.6 2038.3,368.9 C2040.5,366.2 2044.1,361.6 2046.5,359.5 C2048.9,357.4 2055.2,353.0 2058.3,351.3 C2061.4,349.6 2068.9,346.9 2072.3,345.5 C2075.7,344.1 2083.0,341.0 2086.4,339.6 C2089.8,338.2 2097.4,334.7 2100.5,333.7 C2103.6,332.7 2109.4,332.2 2112.2,331.4 C2115.0,330.6 2120.9,327.3 2124.0,326.7 C2127.1,326.1 2135.0,326.5 2138.0,326.2 C2141.0,325.9 2145.9,325.1 2148.6,324.6 C2151.3,324.1 2156.7,322.7 2160.4,322.3 C2164.1,321.9 2175.2,321.8 2179.1,321.6 C2183.0,321.4 2189.8,321.5 2193.2,320.9 C2196.6,320.3 2203.6,317.7 2207.3,316.9 C2211.0,316.1 2220.3,314.7 2223.7,314.5 C2227.1,314.3 2232.7,314.8 2235.5,315.2 C2238.3,315.6 2244.7,317.4 2247.2,317.6 C2249.7,317.8 2254.6,317.7 2256.6,316.9 C2258.6,316.1 2261.4,312.0 2263.6,311.0 C2265.8,310.0 2272.5,310.0 2275.3,308.7 C2278.1,307.4 2284.3,302.3 2287.1,300.5 C2289.9,298.7 2296.4,295.5 2298.8,293.4 C2301.2,291.3 2305.0,285.4 2307.0,282.9 C2309.0,280.4 2313.1,274.6 2315.2,272.3 C2317.3,270.0 2322.1,265.8 2324.6,264.1 C2327.1,262.4 2334.1,260.5 2336.3,258.2 C2338.5,255.9 2341.0,248.8 2342.7,245.3 C2344.4,241.8 2348.3,231.6 2350.4,228.9 C2352.5,226.2 2357.9,224.7 2359.8,223.0 C2361.7,221.3 2365.0,216.9 2366.5,214.8 C2368.0,212.7 2370.7,208.3 2371.9,205.5 C2373.1,202.7 2375.8,194.8 2376.9,191.4 C2378.0,188.0 2380.0,180.4 2380.9,177.3 C2381.8,174.2 2383.3,168.4 2384.1,165.6 C2384.9,162.8 2387.1,155.8 2387.8,153.8 C2388.5,151.8 2389.5,150.2 2390.3,149.0 C2391.1,147.8 2394.0,144.2 2394.5,143.5"/>
</g>
<g fill="none" stroke="#ff0000">
<path d="M548.6,128.6 V1636.8" stroke-width="5.5" stroke-dasharray="28.9 25.82" stroke-dashoffset="0"/>
<path d="M1577.8,232 V1637" stroke-width="8.0" stroke-dasharray="28.9 25.82" stroke-dashoffset="0"/>
<path d="M1644.6,240.2 V1637" stroke-width="6.6" stroke-dasharray="28.9 25.82" stroke-dashoffset="0"/>
<path d="M1890.3,310.3 V1647" stroke-width="8.2" stroke-dasharray="28.9 25.82" stroke-dashoffset="0"/>
<path d="M1986.9,325 V1614" stroke-width="5.6" stroke-dasharray="28.9 25.82" stroke-dashoffset="0"/>
</g>

<g font-size="68" text-anchor="middle"><text x="207.5" y="1732.3">4000</text><text x="510.6" y="1732.3">3500</text><text x="813" y="1732.3">3000</text><text x="1117" y="1732.3">2500</text><text x="1420" y="1732.3">2000</text><text x="1723" y="1732.3">1500</text><text x="2026.5" y="1732.3">1000</text><text x="2329" y="1732.3">500</text></g>
<text x="941" y="1858.5" font-size="82" font-weight="bold" textLength="640" lengthAdjust="spacing" style="white-space:pre">Wavenumber (cm</text><text x="1584" y="1823" font-size="54" font-weight="bold">-1</text><text x="1628" y="1858.5" font-size="82" font-weight="bold">)</text>
<text transform="translate(104,1180) rotate(-90)" x="0" y="0" font-size="84" font-weight="bold" textLength="682" lengthAdjust="spacing">Transmittance (%)</text>
<text transform="scale(0.72,1)" x="1256.2 1314.0 1371.8 1429.6 1487.4 1545.1 1602.9 1660.7 1718.5 1776.3 1834.0 1891.8" y="239" font-size="87" text-anchor="middle">CdSe/RGO-1:2</text>
<text transform="scale(0.72,1)" x="1488.9 1546.7 1604.4 1662.2" y="677" font-size="87" text-anchor="middle">CdSe</text>
<text transform="scale(0.72,1)" x="1539.6 1597.4" y="1087" font-size="87" text-anchor="middle">GO</text>

</svg>
</body></html>
